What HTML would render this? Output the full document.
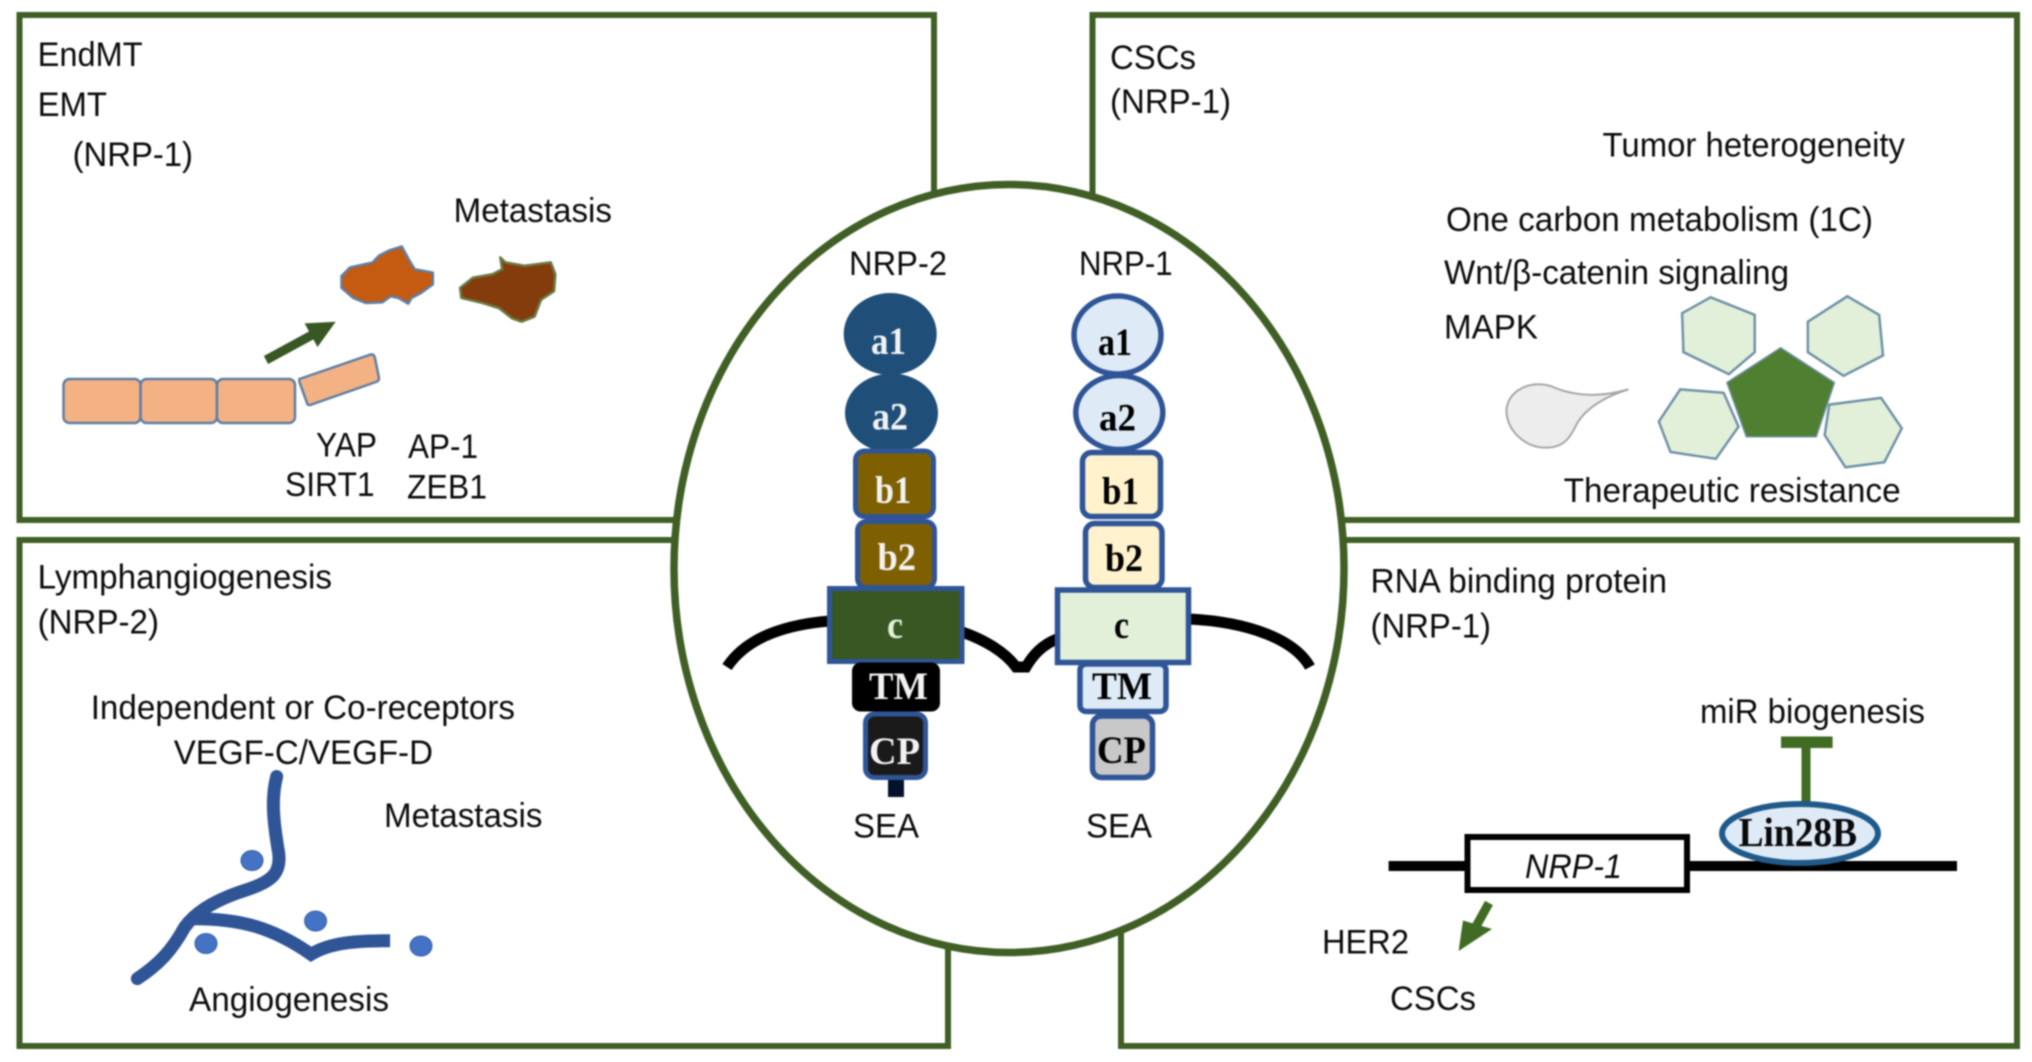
<!DOCTYPE html>
<html>
<head>
<meta charset="utf-8">
<style>
html,body{margin:0;padding:0;background:#fff;width:2032px;height:1062px;overflow:hidden}
svg{display:block;filter:blur(0.8px)}
.t{font-family:"Liberation Sans",sans-serif;font-size:34px;fill:#0c0c0c}
.d{font-family:"Liberation Serif",serif;font-size:39px;font-weight:bold}
.w{fill:#f2f2f2}.k{fill:#000}
.m{fill:none;stroke:#000;stroke-width:11}
</style>
</head>
<body>
<svg width="2032" height="1062" viewBox="0 0 2032 1062" xmlns="http://www.w3.org/2000/svg">
<rect width="2032" height="1062" fill="#fff"/>

<!-- panels -->
<g fill="#fff" stroke="#3f5f25" stroke-width="6">
<rect x="19.5" y="15" width="914.5" height="505"/>
<rect x="1092.5" y="15" width="924.5" height="505"/>
<rect x="19.5" y="540" width="928.5" height="506"/>
<rect x="1121" y="540" width="896" height="506"/>
</g>

<!-- top-left panel -->
<text class="t" x="37.6" y="66" textLength="105" lengthAdjust="spacingAndGlyphs">EndMT</text>
<text class="t" x="37.6" y="116" textLength="69.4" lengthAdjust="spacingAndGlyphs">EMT</text>
<text class="t" x="72.6" y="166" textLength="120.4" lengthAdjust="spacingAndGlyphs">(NRP-1)</text>
<text class="t" x="453.6" y="222" textLength="158.4" lengthAdjust="spacingAndGlyphs">Metastasis</text>
<text class="t" x="316" y="456.5" textLength="61" lengthAdjust="spacingAndGlyphs">YAP</text>
<text class="t" x="285" y="496" textLength="89.6" lengthAdjust="spacingAndGlyphs">SIRT1</text>
<text class="t" x="408" y="458" textLength="70" lengthAdjust="spacingAndGlyphs">AP-1</text>
<text class="t" x="407" y="498.5" textLength="80" lengthAdjust="spacingAndGlyphs">ZEB1</text>

<g fill="#f4b183" stroke="#5f7fa5" stroke-width="2.5">
<rect x="63.5" y="379" width="77" height="44" rx="6"/>
<rect x="140.6" y="379" width="76.4" height="44" rx="6"/>
<rect x="217" y="379" width="78" height="44" rx="6"/>
<path d="M299.4 379 L370.7 354.5 Q374 354 375 358 L379 378 Q379 381 376 382 L310 405 Q307.5 405.5 307 403 L299.4 382 Z"/>
</g>
<g transform="scale(0.648,0.3386)" stroke-linejoin="round">
<path vector-effect="non-scaling-stroke" fill="#c55a11" stroke="#5f7fa5" stroke-width="2.5" d="M620 728 L632 770 L640 795 L668 805 L668 840 L650 865 L635 880 L630 897 L615 880 L603 875 L590 893 L565 895 L545 880 L527 850 L527 815 L540 790 L575 775 L585 755 L600 740 Z"/>
<path vector-effect="non-scaling-stroke" fill="#843c0c" stroke="#6b7a45" stroke-width="2.5" d="M772 760 L780 775 L810 785 L850 775 L857 810 L855 860 L835 885 L825 935 L805 950 L790 940 L770 910 L745 895 L712 880 L710 850 L730 820 L760 810 L775 795 Z"/>
</g>
<line x1="266" y1="360" x2="312" y2="335" stroke="#385723" stroke-width="9"/>
<polygon points="335.7,321.7 304.6,323.4 317.5,347" fill="#385723"/>

<!-- top-right panel -->
<text class="t" x="1110" y="69" textLength="86" lengthAdjust="spacingAndGlyphs">CSCs</text>
<text class="t" x="1110" y="113" textLength="121" lengthAdjust="spacingAndGlyphs">(NRP-1)</text>
<text class="t" x="1602.5" y="156.5" textLength="302.5" lengthAdjust="spacingAndGlyphs">Tumor heterogeneity</text>
<text class="t" x="1446" y="231" textLength="427" lengthAdjust="spacingAndGlyphs">One carbon metabolism (1C)</text>
<text class="t" x="1444" y="284" textLength="345" lengthAdjust="spacingAndGlyphs">Wnt/β-catenin signaling</text>
<text class="t" x="1444" y="338.6" textLength="94" lengthAdjust="spacingAndGlyphs">MAPK</text>
<text class="t" x="1563.6" y="502" textLength="337" lengthAdjust="spacingAndGlyphs">Therapeutic resistance</text>
<g transform="translate(1016,0) scale(0.648,0.3386)">
<g fill="#e2f0d9" stroke="#7092a8" stroke-width="2.5">
<polygon vector-effect="non-scaling-stroke" points="1072,878 1140,930 1140,1040 1100,1105 1030,1040 1028,925"/>
<polygon vector-effect="non-scaling-stroke" points="1283,875 1332,930 1338,1050 1277,1110 1222,1040 1222,950"/>
<polygon vector-effect="non-scaling-stroke" points="1025,1150 1092,1160 1115,1260 1080,1355 1010,1335 992,1245"/>
<polygon vector-effect="non-scaling-stroke" points="1335,1175 1367,1265 1340,1365 1280,1380 1248,1285 1255,1195"/>
</g>
<polygon vector-effect="non-scaling-stroke" fill="#4f7f30" stroke="#7092a8" stroke-width="1.5" points="1180,1027 1263,1130 1235,1290 1127,1290 1097,1130"/>
<path vector-effect="non-scaling-stroke" fill="#ededed" stroke="#a6a6a6" stroke-width="2" d="M945 1150 C900 1175 860 1170 825 1140 C790 1120 755 1160 757 1220 C760 1280 790 1325 820 1322 C850 1320 858 1280 866 1250 C880 1205 910 1170 945 1150 Z"/>
</g>

<!-- bottom-left panel -->
<text class="t" x="37.6" y="588.6" textLength="294.4" lengthAdjust="spacingAndGlyphs">Lymphangiogenesis</text>
<text class="t" x="37.6" y="633.6" textLength="121.4" lengthAdjust="spacingAndGlyphs">(NRP-2)</text>
<text class="t" x="90.7" y="719" textLength="424.3" lengthAdjust="spacingAndGlyphs">Independent or Co-receptors</text>
<text class="t" x="173.7" y="764" textLength="259.3" lengthAdjust="spacingAndGlyphs">VEGF-C/VEGF-D</text>
<text class="t" x="384" y="827" textLength="158.5" lengthAdjust="spacingAndGlyphs">Metastasis</text>
<text class="t" x="189" y="1011" textLength="200" lengthAdjust="spacingAndGlyphs">Angiogenesis</text>
<g transform="translate(0,531) scale(0.648,0.3386)" fill="none" stroke="#2f5597" stroke-width="13">
<path vector-effect="non-scaling-stroke" stroke-linecap="round" d="M427 725 C418 790 422 860 430 950 C434 1010 420 1035 380 1060 C330 1090 300 1130 285 1170 C265 1240 245 1280 212 1322"/>
<path vector-effect="non-scaling-stroke" d="M300 1145 C370 1145 420 1170 480 1250 C510 1215 550 1210 602 1210"/>
</g>
<g fill="#4472c4" stroke="#35609f" stroke-width="1">
<ellipse cx="252" cy="860.5" rx="11" ry="10"/>
<ellipse cx="206" cy="943.5" rx="11" ry="10"/>
<ellipse cx="315.6" cy="921" rx="11" ry="10"/>
<ellipse cx="421" cy="946" rx="11" ry="10"/>
</g>

<!-- bottom-right panel -->
<text class="t" x="1370.5" y="592.6" textLength="296.5" lengthAdjust="spacingAndGlyphs">RNA binding protein</text>
<text class="t" x="1370.5" y="637.7" textLength="120.5" lengthAdjust="spacingAndGlyphs">(NRP-1)</text>
<text class="t" x="1700" y="723" textLength="225" lengthAdjust="spacingAndGlyphs">miR biogenesis</text>
<rect x="1781" y="736.5" width="51.6" height="11.5" fill="#3f6b22"/>
<rect x="1801.5" y="748" width="9" height="54" fill="#3f6b22"/>
<rect x="1388.6" y="861" width="568.4" height="10" fill="#000"/>
<ellipse cx="1800" cy="833.5" rx="78" ry="29.5" fill="#deebf7" stroke="#1f5a8a" stroke-width="6"/>
<text x="1738.6" y="846" textLength="118.4" lengthAdjust="spacingAndGlyphs" style="font-family:'Liberation Serif',serif;font-weight:bold;font-size:41px;fill:#0a0a0a">Lin28B</text>
<rect x="1467.5" y="837" width="219.5" height="53" fill="#fff" stroke="#000" stroke-width="6"/>
<text x="1525" y="878" textLength="97" lengthAdjust="spacingAndGlyphs" style="font-family:'Liberation Sans',sans-serif;font-style:italic;font-size:34px;fill:#0a0a0a">NRP-1</text>
<line x1="1489" y1="903" x2="1474" y2="930" stroke="#3f6b22" stroke-width="9"/>
<polygon points="1463,920.5 1492,929 1458.6,951" fill="#3f6b22"/>
<text class="t" x="1322" y="953.6" textLength="87" lengthAdjust="spacingAndGlyphs">HER2</text>
<text class="t" x="1390" y="1010" textLength="86" lengthAdjust="spacingAndGlyphs">CSCs</text>

<!-- centre ellipse -->
<ellipse cx="1009" cy="568.5" rx="335" ry="384" fill="#fff" stroke="#3f5f25" stroke-width="7.5"/>
<text class="t" x="849" y="275" textLength="98" lengthAdjust="spacingAndGlyphs">NRP-2</text>
<text class="t" x="1079" y="275" textLength="93.6" lengthAdjust="spacingAndGlyphs">NRP-1</text>
<text class="t" x="853" y="837.5" textLength="66" lengthAdjust="spacingAndGlyphs">SEA</text>
<text class="t" x="1086" y="837.5" textLength="66" lengthAdjust="spacingAndGlyphs">SEA</text>

<!-- membrane arcs -->
<path class="m" d="M727 667 C745 640 780 625 830 621"/>
<path class="m" d="M962 632 C985 640 1005 652 1016 667 L1026 667 C1033 655 1042 645 1057 639"/>
<path class="m" d="M1189 619 C1250 622 1295 640 1310 667"/>

<!-- NRP-2 -->
<g stroke="#2f5597" stroke-width="5">
<ellipse cx="890.2" cy="334" rx="44" ry="38.5" fill="#1f4e79" stroke="#1f4e79"/>
<ellipse cx="891.5" cy="413" rx="44" ry="37" fill="#1f4e79" stroke="#1f4e79"/>
<rect x="855.5" y="451" width="78" height="65.5" rx="9" fill="#7f6000"/>
<rect x="857.5" y="521.5" width="77" height="66" rx="9" fill="#7f6000"/>
<rect x="829.5" y="588.5" width="132.5" height="73" fill="#385723"/>
<rect x="854.5" y="665" width="83" height="44" rx="6" fill="#000" stroke="#000"/>
<rect x="865.5" y="714" width="60" height="63.5" rx="9" fill="#1a1a1a"/>
</g>
<rect x="888" y="780" width="16" height="17" fill="#06122c"/>
<text class="d w" x="871" y="354" textLength="35" lengthAdjust="spacingAndGlyphs">a1</text>
<text class="d w" x="872" y="429.5" textLength="36" lengthAdjust="spacingAndGlyphs">a2</text>
<text class="d w" x="875" y="503" textLength="36" lengthAdjust="spacingAndGlyphs">b1</text>
<text class="d w" x="877.5" y="570" textLength="38.5" lengthAdjust="spacingAndGlyphs">b2</text>
<text class="d" x="887" y="638" textLength="16" lengthAdjust="spacingAndGlyphs" style="fill:#e2f0d9">c</text>
<text class="d w" x="869" y="699" textLength="59" lengthAdjust="spacingAndGlyphs">TM</text>
<text class="d w" x="869" y="764" textLength="51" lengthAdjust="spacingAndGlyphs">CP</text>

<!-- NRP-1 -->
<g stroke="#2f5597" stroke-width="5.5">
<ellipse cx="1117.5" cy="335" rx="43.5" ry="39" fill="#deebf7"/>
<ellipse cx="1119.3" cy="412.5" rx="43.5" ry="37" fill="#deebf7"/>
<rect x="1082.5" y="452.5" width="78" height="64" rx="9" fill="#fff2cc"/>
<rect x="1085.5" y="523.5" width="76.5" height="64" rx="9" fill="#fff2cc"/>
<rect x="1057.5" y="590" width="131" height="72.5" fill="#e2f0d9"/>
<rect x="1080" y="664" width="86" height="47.5" rx="6" fill="#deebf7"/>
<rect x="1092.5" y="716" width="60" height="61.5" rx="9" fill="#c8c8c8"/>
</g>
<text class="d k" x="1098" y="355" textLength="34" lengthAdjust="spacingAndGlyphs">a1</text>
<text class="d k" x="1099" y="430.6" textLength="37" lengthAdjust="spacingAndGlyphs">a2</text>
<text class="d k" x="1102" y="504" textLength="37" lengthAdjust="spacingAndGlyphs">b1</text>
<text class="d k" x="1105" y="571" textLength="38" lengthAdjust="spacingAndGlyphs">b2</text>
<text class="d k" x="1114" y="638" textLength="15" lengthAdjust="spacingAndGlyphs">c</text>
<text class="d k" x="1092" y="699" textLength="60" lengthAdjust="spacingAndGlyphs">TM</text>
<text class="d k" x="1097" y="763" textLength="49" lengthAdjust="spacingAndGlyphs">CP</text>
</svg>
</body>
</html>
